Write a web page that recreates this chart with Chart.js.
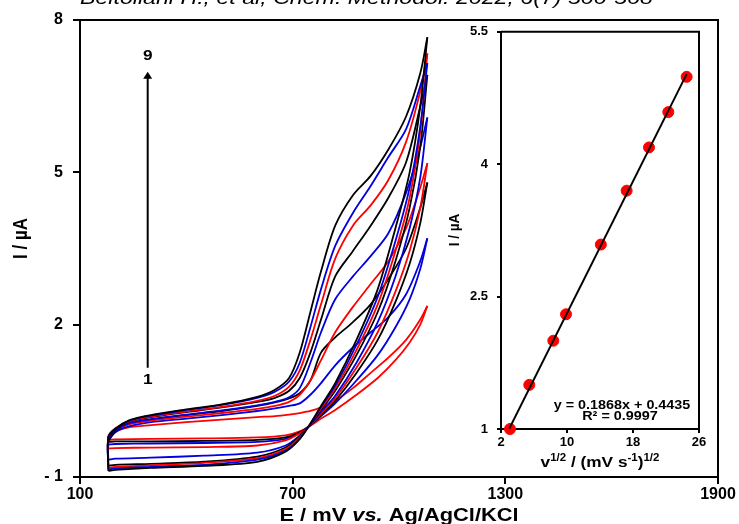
<!DOCTYPE html>
<html>
<head>
<meta charset="utf-8">
<title>CV scan-rate study</title>
<script src="https://cdn.jsdelivr.net/npm/chart.js@4/dist/chart.umd.min.js"></script>
<style>
  html, body { margin: 0; padding: 0; background: #fff; }
  #wrap { position: relative; width: 739px; height: 524px; overflow: hidden; background: #fff; }
  #main { position: absolute; left: 0; top: 0; }
  #inset { position: absolute; left: 440px; top: 15px; }
</style>
</head>
<body>
<div id="wrap">
  <canvas id="main" width="739" height="524"></canvas>
  <canvas id="inset" width="275" height="465"></canvas>
</div>
<script>
// ---- Cyclic voltammograms, curves 1 (slowest scan) to 9 (fastest scan) ----
// forward (anodic) sweep potentials, mV
const fwdPotential = [180, 200, 240, 300, 400, 500, 600, 650, 690, 720, 750, 780, 820, 870, 920, 970, 1020, 1060, 1080];
// reverse (cathodic) sweep potentials, mV
const revPotential = [1080, 1060, 1030, 990, 940, 880, 820, 780, 750, 720, 680, 600, 450, 300, 200, 180];

// forward sweep currents, µA
const fwdCurve1 = [-0.20, -0.10, -0.02, 0.02, 0.08, 0.13, 0.18, 0.20, 0.23, 0.26, 0.30, 0.37, 0.50, 0.75, 1.05, 1.35, 1.70, 2.10, 2.37];
const fwdCurve2 = [-0.30, -0.12, 0.00, 0.08, 0.15, 0.22, 0.30, 0.35, 0.40, 0.45, 0.62, 0.85, 1.20, 1.55, 1.85, 2.15, 2.60, 3.25, 3.70];
const fwdCurve3 = [-0.28, -0.10, 0.05, 0.13, 0.22, 0.30, 0.40, 0.47, 0.55, 0.65, 0.90, 1.45, 1.75, 2.05, 2.40, 2.90, 3.50, 4.30, 4.80];
const fwdCurve4 = [-0.22, -0.07, 0.04, 0.11, 0.19, 0.26, 0.34, 0.40, 0.48, 0.62, 0.90, 1.30, 1.85, 2.35, 2.80, 3.25, 3.90, 4.70, 5.18];
const fwdCurve5 = [-0.26, -0.08, 0.06, 0.14, 0.23, 0.31, 0.41, 0.48, 0.57, 0.75, 1.25, 1.85, 2.50, 2.95, 3.35, 3.80, 4.60, 5.50, 6.08];
const fwdCurve6 = [-0.24, -0.06, 0.09, 0.18, 0.28, 0.37, 0.48, 0.56, 0.70, 0.95, 1.45, 2.10, 2.95, 3.45, 3.95, 4.50, 5.20, 6.30, 6.92];
const fwdCurve7 = [-0.20, -0.04, 0.10, 0.19, 0.29, 0.38, 0.50, 0.60, 0.78, 1.10, 1.70, 2.40, 3.30, 3.95, 4.35, 4.85, 5.60, 6.60, 7.34];
const fwdCurve8 = [-0.22, -0.05, 0.11, 0.21, 0.32, 0.42, 0.56, 0.68, 0.88, 1.25, 1.95, 2.70, 3.55, 4.20, 4.73, 5.30, 5.85, 6.70, 7.15];
const fwdCurve9 = [-0.22, -0.05, 0.12, 0.22, 0.33, 0.43, 0.58, 0.72, 0.95, 1.45, 2.25, 3.05, 3.95, 4.55, 4.93, 5.45, 6.10, 6.95, 7.66];

// reverse sweep currents, µA
const revCurve1 = [2.37, 2.00, 1.65, 1.30, 0.95, 0.62, 0.32, 0.15, 0.01, -0.10, -0.18, -0.22, -0.24, -0.25, -0.26, -0.27];
const revCurve2 = [3.70, 3.10, 2.50, 1.95, 1.40, 0.90, 0.45, 0.20, 0.02, -0.13, -0.25, -0.31, -0.33, -0.34, -0.35, -0.36];
const revCurve3 = [4.80, 4.00, 3.20, 2.45, 1.70, 1.05, 0.50, 0.22, 0.02, -0.12, -0.22, -0.27, -0.29, -0.30, -0.30, -0.31];
const revCurve4 = [5.18, 4.30, 3.45, 2.65, 1.85, 1.15, 0.55, 0.25, 0.02, -0.14, -0.28, -0.38, -0.41, -0.42, -0.43, -0.44];
const revCurve5 = [6.08, 4.90, 3.90, 2.95, 2.05, 1.25, 0.60, 0.28, 0.03, -0.18, -0.38, -0.52, -0.58, -0.62, -0.64, -0.66];
const revCurve6 = [6.92, 5.50, 4.30, 3.25, 2.25, 1.40, 0.70, 0.32, 0.04, -0.20, -0.42, -0.60, -0.70, -0.74, -0.76, -0.78];
const revCurve7 = [7.34, 5.80, 4.50, 3.45, 2.40, 1.50, 0.75, 0.35, 0.05, -0.22, -0.45, -0.63, -0.72, -0.77, -0.80, -0.82];
const revCurve8 = [7.15, 5.90, 4.70, 3.65, 2.55, 1.60, 0.80, 0.38, 0.05, -0.25, -0.48, -0.66, -0.76, -0.80, -0.83, -0.85];
const revCurve9 = [7.66, 6.30, 5.00, 3.90, 2.70, 1.70, 0.85, 0.40, 0.05, -0.25, -0.50, -0.70, -0.78, -0.82, -0.86, -0.88];

const cycleColors = ['#ff0000', '#0000e0', '#000000', '#ff0000', '#0000e0', '#000000', '#ff0000', '#0000e0', '#000000'];

const mainXTicks = [100, 700, 1300, 1900];
const mainYTicks = [-1, 2, 5, 8];

// scan-rate arrow, labelled from curve 1 to curve 9
const arrowPotential = 291;
const arrowCurrents = [1.15, 6.98];
const arrowLabels = ['1', '9'];
const arrowLabelCurrents = [0.91, 7.29];

// ---- Inset: peak current vs square root of scan rate ----
const sqrtScanRate = [3.09, 5.43, 8.34, 9.88, 14.1, 17.23, 19.94, 22.28, 24.5];
const peakCurrent  = [1.00, 1.50, 2.00, 2.30, 3.09, 3.70, 4.19, 4.59, 4.99];
const fitSlope = 0.1868;
const fitIntercept = 0.4435;
const fitRSquared = '0.9997';
const fitSpan = [3.0, 24.5];
const insetXTicks = [2, 10, 18, 26];
const insetYTicks = [1, 2.5, 4, 5.5];

const citation = 'Beitollahi H., et al, Chem. Methodol. 2022, 6(7) 500-508';

// ------------------------------------------------------------------
const FAMILY = '"Liberation Sans", Arial, Helvetica, sans-serif';
const STRETCH = 1.15;   // the lettering runs slightly wide
Chart.defaults.font.family = FAMILY;
Chart.defaults.color = '#000';

function wideText(ctx, text, x, y, font, align) {
  ctx.save();
  ctx.font = font;
  ctx.fillStyle = '#000';
  ctx.textBaseline = 'middle';
  ctx.textAlign = align || 'center';
  ctx.translate(x, y);
  ctx.scale(STRETCH, 1);
  ctx.fillText(text, 0, 0);
  ctx.restore();
}

// mixed-style run of text, centred at (cx, cy)
function wideRuns(ctx, runs, cx, cy) {
  ctx.save();
  ctx.fillStyle = '#000';
  ctx.textBaseline = 'alphabetic';
  ctx.textAlign = 'left';
  let total = 0;
  runs.forEach(r => { ctx.font = r.font; total += ctx.measureText(r.text).width; });
  ctx.translate(cx - total * STRETCH / 2, cy);
  ctx.scale(STRETCH, 1);
  let x = 0;
  runs.forEach(r => {
    ctx.font = r.font;
    ctx.fillText(r.text, x, r.rise || 0);
    x += ctx.measureText(r.text).width;
  });
  ctx.restore();
}

function frameBox(ctx, area) {
  ctx.save();
  ctx.strokeStyle = '#000';
  ctx.lineWidth = 2;
  ctx.beginPath();
  ctx.moveTo(area.left, area.top);
  ctx.lineTo(area.right, area.top);
  ctx.lineTo(area.right, area.bottom);
  ctx.stroke();
  ctx.restore();
}

function fixedTicks(values) {
  return function (scale) { scale.ticks = values.map(v => ({ value: v })); };
}

// ---------------- main voltammogram chart ----------------
const fwdSets = [fwdCurve1, fwdCurve2, fwdCurve3, fwdCurve4, fwdCurve5, fwdCurve6, fwdCurve7, fwdCurve8, fwdCurve9];
const revSets = [revCurve1, revCurve2, revCurve3, revCurve4, revCurve5, revCurve6, revCurve7, revCurve8, revCurve9];

const cvDatasets = [];
for (let k = fwdSets.length - 1; k >= 0; k--) {
  const rev = revSets[k];
  const last = rev.length - 1;
  const reverse = revPotential.map((e, i) => ({ x: e, y: rev[i] }));
  // forward sweep starts where the reverse sweep of the loop ends
  const forward = [{ x: revPotential[last], y: rev[last] }]
    .concat(fwdPotential.map((e, i) => ({ x: e, y: fwdSets[k][i] })));
  [forward, reverse].forEach(pts => cvDatasets.push({
    data: pts,
    showLine: true,
    borderColor: cycleColors[k],
    borderWidth: 1.8,
    pointRadius: 0,
    tension: 0.3,
    fill: false
  }));
}

const mainDecor = {
  id: 'mainDecor',
  afterDraw(chart) {
    const ctx = chart.ctx;
    const a = chart.chartArea;
    const xs = chart.scales.x, ys = chart.scales.y;
    frameBox(ctx, a);

    // scan-rate arrow
    const ax = xs.getPixelForValue(arrowPotential);
    const y0 = ys.getPixelForValue(arrowCurrents[0]);
    const y1 = ys.getPixelForValue(arrowCurrents[1]);
    ctx.save();
    ctx.strokeStyle = '#000';
    ctx.fillStyle = '#000';
    ctx.lineWidth = 2;
    ctx.beginPath();
    ctx.moveTo(ax, y0);
    ctx.lineTo(ax, y1 + 6);
    ctx.stroke();
    ctx.beginPath();
    ctx.moveTo(ax, y1);
    ctx.lineTo(ax - 4.5, y1 + 7);
    ctx.lineTo(ax + 4.5, y1 + 7);
    ctx.closePath();
    ctx.fill();
    ctx.restore();
    arrowLabels.forEach((t, i) =>
      wideText(ctx, t, ax, ys.getPixelForValue(arrowLabelCurrents[i]), 'bold 15px ' + FAMILY));

    // axis titles
    ctx.save();
    ctx.translate(22, (a.top + a.bottom) / 2 - 10);
    ctx.scale(STRETCH, 1);
    ctx.rotate(-Math.PI / 2);
    ctx.font = 'bold 17px ' + FAMILY;
    ctx.fillStyle = '#000';
    ctx.textAlign = 'center';
    ctx.textBaseline = 'middle';
    ctx.fillText('I / µA', 0, 0);
    ctx.restore();

    wideRuns(ctx, [
      { text: 'E / mV ', font: 'bold 19px ' + FAMILY },
      { text: 'vs.', font: 'italic bold 19px ' + FAMILY },
      { text: ' Ag/AgCl/KCl', font: 'bold 19px ' + FAMILY }
    ], (a.left + a.right) / 2, 521);

    // source line along the top edge, cut by the page border
    ctx.save();
    ctx.font = 'italic 18px ' + FAMILY;
    ctx.fillStyle = '#000';
    ctx.textBaseline = 'alphabetic';
    ctx.textAlign = 'left';
    const w = ctx.measureText(citation).width;
    ctx.translate(80, 4);
    ctx.scale(573 / w, 1);
    ctx.fillText(citation, 0, 0);
    ctx.restore();
  }
};

new Chart(document.getElementById('main'), {
  type: 'scatter',
  data: { datasets: cvDatasets },
  options: {
    responsive: false,
    animation: false,
    devicePixelRatio: 1,
    layout: { padding: { top: 20, right: 21, left: 0, bottom: 0 } },
    plugins: { legend: { display: false }, tooltip: { enabled: false } },
    scales: {
      x: {
        type: 'linear',
        min: 100, max: 1900,
        afterBuildTicks: fixedTicks(mainXTicks),
        afterFit(s) { s.height = 47; },
        grid: { drawOnChartArea: false, color: '#000', tickColor: '#000', lineWidth: 2, tickLength: 7 },
        border: { color: '#000', width: 2 },
        ticks: {
          font: { size: 16, weight: 'bold' }, padding: 1, maxRotation: 0, autoSkip: false, color: '#000',
          callback: v => String(v)
        }
      },
      y: {
        type: 'linear',
        min: -1, max: 8,
        afterBuildTicks: fixedTicks(mainYTicks),
        afterFit(s) { s.width = 80; },
        grid: { drawOnChartArea: false, color: '#000', tickColor: '#000', lineWidth: 2, tickLength: 7 },
        border: { color: '#000', width: 2 },
        ticks: {
          font: { size: 16, weight: 'bold' }, padding: 10, autoSkip: false, color: '#000',
          callback: v => (v < 0 ? '- ' + Math.abs(v) : String(v))
        }
      }
    }
  },
  plugins: [mainDecor]
});

// ---------------- inset: linear fit ----------------
const fitLine = fitSpan.map(x => ({ x: x, y: fitSlope * x + fitIntercept }));
const ratePoints = sqrtScanRate.map((x, i) => ({ x: x, y: peakCurrent[i] }));

const insetDecor = {
  id: 'insetDecor',
  afterDraw(chart) {
    const ctx = chart.ctx;
    const a = chart.chartArea;
    frameBox(ctx, a);

    const eqX = 182;
    wideText(ctx, 'y = ' + fitSlope + 'x + ' + fitIntercept, eqX, 391, 'bold 12.5px ' + FAMILY);
    wideText(ctx, 'R² = ' + fitRSquared, eqX - 2, 402, 'bold 12.5px ' + FAMILY);

    ctx.save();
    ctx.translate(15, 215);
    ctx.scale(STRETCH, 1);
    ctx.rotate(-Math.PI / 2);
    ctx.font = 'bold 13.5px ' + FAMILY;
    ctx.fillStyle = '#000';
    ctx.textAlign = 'center';
    ctx.textBaseline = 'middle';
    ctx.fillText('I / µA', 0, 0);
    ctx.restore();

    const big = 'bold 15px ' + FAMILY, small = 'bold 10px ' + FAMILY;
    wideRuns(ctx, [
      { text: 'v', font: big },
      { text: '1/2', font: small, rise: -6 },
      { text: ' / (mV s', font: big },
      { text: '-1', font: small, rise: -6 },
      { text: ')', font: big },
      { text: '1/2', font: small, rise: -6 }
    ], (a.left + a.right) / 2, 452);
  }
};

new Chart(document.getElementById('inset'), {
  type: 'scatter',
  data: {
    datasets: [
      {
        data: fitLine,
        showLine: true,
        borderColor: '#000',
        borderWidth: 2,
        pointRadius: 0,
        tension: 0
      },
      {
        data: ratePoints,
        pointRadius: 5.5,
        pointBackgroundColor: '#ff0000',
        pointBorderColor: '#ff0000',
        pointBorderWidth: 1,
        clip: false
      }
    ]
  },
  options: {
    responsive: false,
    animation: false,
    devicePixelRatio: 1,
    layout: { padding: { top: 16, right: 16, left: 0, bottom: 0 } },
    plugins: { legend: { display: false }, tooltip: { enabled: false } },
    scales: {
      x: {
        type: 'linear',
        min: 2, max: 26,
        afterBuildTicks: fixedTicks(insetXTicks),
        afterFit(s) { s.height = 51; },
        grid: { drawOnChartArea: false, color: '#000', tickColor: '#000', lineWidth: 2, tickLength: 4 },
        border: { color: '#000', width: 2 },
        ticks: { font: { size: 13, weight: 'bold' }, padding: 2, maxRotation: 0, autoSkip: false, color: '#000' }
      },
      y: {
        type: 'linear',
        min: 1, max: 5.5,
        afterBuildTicks: fixedTicks(insetYTicks),
        afterFit(s) { s.width = 61; },
        grid: { drawOnChartArea: false, color: '#000', tickColor: '#000', lineWidth: 2, tickLength: 4 },
        border: { color: '#000', width: 2 },
        ticks: { font: { size: 13, weight: 'bold' }, padding: 9, autoSkip: false, color: '#000' }
      }
    }
  },
  plugins: [insetDecor]
});
</script>
</body>
</html>
